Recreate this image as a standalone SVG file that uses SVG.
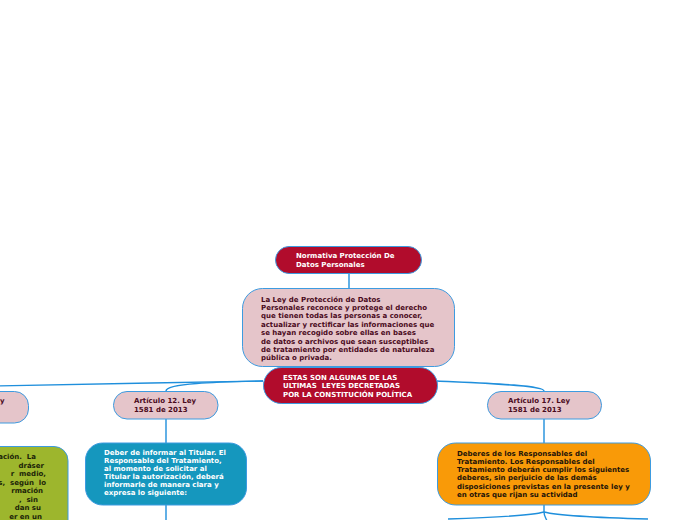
<svg xmlns="http://www.w3.org/2000/svg" width="696" height="520" viewBox="0 0 696 520">
<style>
.n{stroke:#3d9be0;stroke-width:1}
.red{fill:#b10c2c}
.pink{fill:#e5c5ca}
.blue{fill:#1597be}
.orange{fill:#f99a08}
.green{fill:#9db62d}
text{font-family:"DejaVu Sans",Verdana,sans-serif;font-weight:bold;font-size:7px;white-space:pre}
.w{fill:#ffffff}
.m{fill:#4a0a1c}
.k{fill:#1e1408}
.g{fill:#1c2408;text-anchor:end}
.c{fill:none;stroke:#1f8fdc;stroke-width:1.4}
</style>
<rect width="696" height="520" fill="#ffffff"/>
<g id="connectors">
<path class="c" d="M349,274 L349,289"/>
<path class="c" d="M263,381 C180,383 60,384 -5,386"/>
<path class="c" d="M263,381 C220,382 166,383 166,391"/>
<path class="c" d="M437,381 C480,383 544,385 544,391"/>
<path class="c" d="M166,419 L166,443"/>
<path class="c" d="M166,505 L166,520"/>
<path class="c" d="M544,419 L544,443"/>
<path class="c" d="M544,505 L544,512 C544,516 546,518 547,521"/>
<path class="c" d="M544,512 C530,516 480,518 448,519"/>
<path class="c" d="M544,512 C560,516 610,518 648,519"/>
</g>
<g id="node-normativa">
<rect class="n red" x="275.5" y="246.5" width="146" height="27" rx="13.5"/>
<text class="w" x="296" y="258">Normativa Protección De</text>
<text class="w" x="296" y="267">Datos Personales</text>
</g>
<g id="node-ley">
<rect class="n pink" x="242.5" y="288.5" width="212" height="78" rx="20"/>
<text class="m" x="261" y="301.5">La Ley de Protección de Datos</text>
<text class="m" x="261" y="309.9">Personales reconoce y protege el derecho</text>
<text class="m" x="261" y="318.3">que tienen todas las personas a conocer,</text>
<text class="m" x="261" y="326.7">actualizar y rectificar las informaciones que</text>
<text class="m" x="261" y="335.1">se hayan recogido sobre ellas en bases</text>
<text class="m" x="261" y="343.5">de datos o archivos que sean susceptibles</text>
<text class="m" x="261" y="351.9">de tratamiento por entidades de naturaleza</text>
<text class="m" x="261" y="360.3">pública o privada.</text>
</g>
<g id="node-estas">
<rect class="n red" x="263.5" y="367.5" width="174" height="36" rx="18"/>
<text class="w" x="283" y="379.5">ESTAS SON ALGUNAS DE LAS</text>
<text class="w" x="283" y="388">ULTIMAS  LEYES DECRETADAS</text>
<text class="w" x="283" y="396.5">POR LA CONSTITUCIÓN POLÍTICA</text>
</g>
<g id="node-left">
<rect class="n pink" x="-40" y="391.5" width="68.5" height="31.5" rx="14"/>
<text class="m" x="0" y="403">y</text>
</g>
<g id="node-art12">
<rect class="n pink" x="113.5" y="391.5" width="104.5" height="27.5" rx="13.5"/>
<text class="m" x="134" y="403">Artículo 12. Ley</text>
<text class="m" x="134" y="411.5">1581 de 2013</text>
</g>
<g id="node-art17">
<rect class="n pink" x="487.5" y="391.5" width="114" height="27.5" rx="13.5"/>
<text class="m" x="508" y="403">Artículo 17. Ley</text>
<text class="m" x="508" y="411.5">1581 de 2013</text>
</g>
<g id="node-green">
<rect class="n green" x="-40" y="446.5" width="108" height="90" rx="14"/>
<text class="g" x="36" y="459">ación.  La</text>
<text class="g" x="44" y="467.5">dráser</text>
<text class="g" x="46" y="476">r  medio,</text>
<text class="g" x="46" y="484.5">s,  según  lo</text>
<text class="g" x="43" y="493">rmación</text>
<text class="g" x="38" y="501.5">,  sin</text>
<text class="g" x="41" y="510">dan su</text>
<text class="g" x="42" y="518.5">er en un</text>
</g>
<g id="node-blue">
<rect class="n blue" x="85.5" y="443" width="161" height="62" rx="17"/>
<text class="w" x="104" y="455">Deber de informar al Titular. El</text>
<text class="w" x="104" y="463">Responsable del Tratamiento,</text>
<text class="w" x="104" y="471">al momento de solicitar al</text>
<text class="w" x="104" y="479">Titular la autorización, deberá</text>
<text class="w" x="104" y="487">informarle de manera clara y</text>
<text class="w" x="104" y="495">expresa lo siguiente:</text>
</g>
<g id="node-orange">
<rect class="n orange" x="437.5" y="443" width="213" height="62" rx="18"/>
<text class="k" x="457" y="455.5">Deberes de los Responsables del</text>
<text class="k" x="457" y="463.8">Tratamiento. Los Responsables del</text>
<text class="k" x="457" y="472.1">Tratamiento deberán cumplir los siguientes</text>
<text class="k" x="457" y="480.4">deberes, sin perjuicio de las demás</text>
<text class="k" x="457" y="488.7">disposiciones previstas en la presente ley y</text>
<text class="k" x="457" y="497">en otras que rijan su actividad</text>
</g>
</svg>
